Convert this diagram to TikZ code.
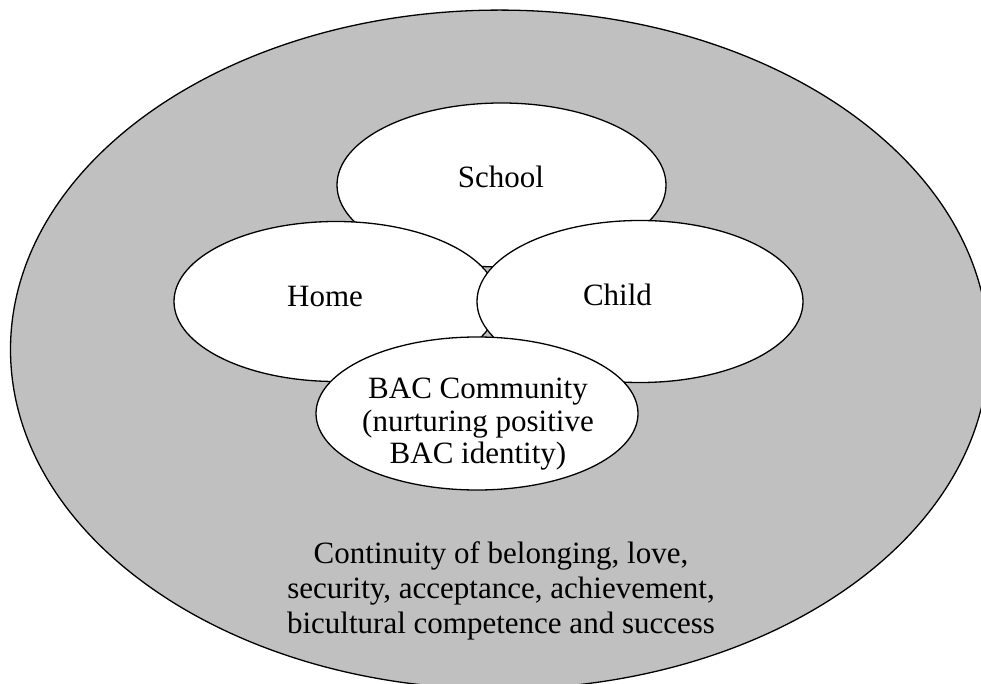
\documentclass[tikz,border=0pt]{standalone}
\usepackage{fontspec}
\setmainfont{Liberation Serif}
\usetikzlibrary{shapes.geometric}
\definecolor{outergray}{HTML}{C0C0C0}
\tikzset{
  ring/.style={draw=black, line width=1.3pt, ellipse, inner sep=0pt, outer sep=0pt},
  lbl/.style={inner sep=0pt, anchor=base, font=\fontsize{31}{35}\selectfont}
}
\begin{document}
\begin{tikzpicture}[x=1pt,y=-1pt]
\useasboundingbox (0,0) rectangle (981,684);
\clip (0,0) rectangle (981,684);
\fill[white] (0,0) rectangle (981,684);
\node[ring, fill=outergray, minimum width=978pt, minimum height=679pt] (outer) at (499.5,349.6) {};
\node[ring, fill=white, minimum width=329pt, minimum height=164pt] (school) at (501.5,185) {};
\node[ring, fill=white, minimum width=324pt, minimum height=160pt] (home) at (336,301.5) {};
\node[ring, fill=white, minimum width=326pt, minimum height=162pt] (child) at (640,301.5) {};
\node[ring, fill=white, minimum width=322pt, minimum height=153pt] (bac) at (477,413.5) {};
\node[lbl] (tschool) at (501,188) {School};
\node[lbl] (thome) at (325,306) {Home};
\node[lbl] (tchild) at (617.5,305) {Child};
\node[lbl] (tbac1) at (478,398) {BAC Community};
\node[lbl] (tbac2) at (478,431) {(nurturing positive};
\node[lbl] (tbac3) at (478,463) {BAC identity)};
\node[lbl] (tcont1) at (501,563) {Continuity of belonging, love,};
\node[lbl] (tcont2) at (501,598) {security, acceptance, achievement,};
\node[lbl] (tcont3) at (501,633) {bicultural competence and success};
\end{tikzpicture}
\end{document}
